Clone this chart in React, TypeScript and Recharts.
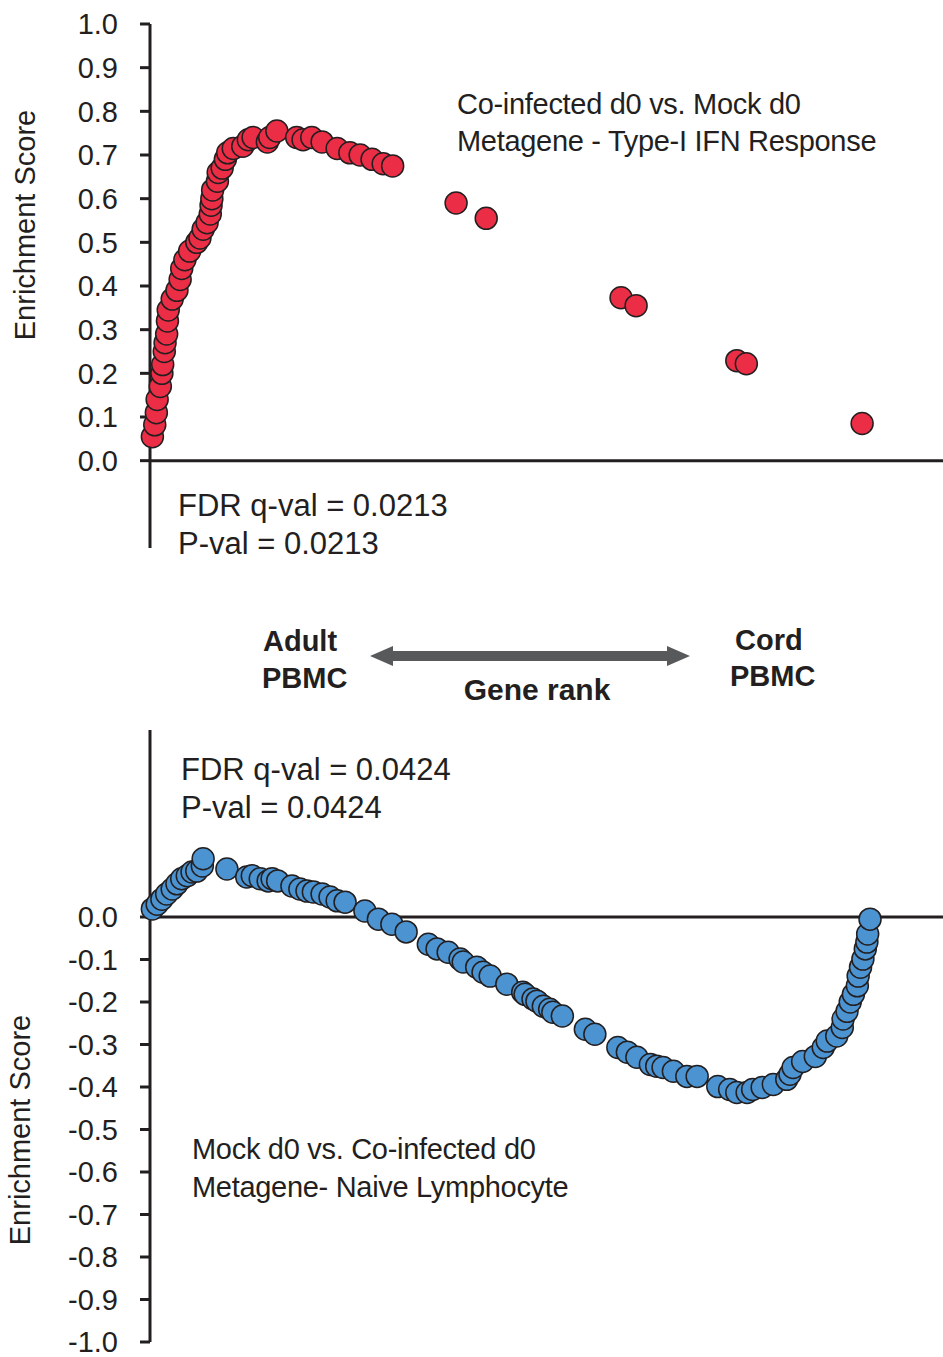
import { ScatterChart, Scatter, XAxis, YAxis, ReferenceLine } from "recharts";

// Gene rank (0–1000, left = Adult PBMC, right = Cord PBMC) and enrichment score per gene
const rankTipoI = [
  3, 6, 8, 9, 13, 15, 16, 18, 19, 21, 22, 23, 28, 34, 38, 40, 44, 50, 59, 63,
  67, 72, 76, 77, 78, 79, 85, 86, 91, 95, 98, 105, 117, 124, 130, 148, 151, 160, 185, 193,
  204, 217, 236, 252, 265, 280, 294, 306, 386, 424, 594, 613, 740, 752, 898,
];
const esTipoI = [
  0.055, 0.082, 0.11, 0.14, 0.17, 0.2, 0.22, 0.25, 0.27, 0.29, 0.32, 0.345, 0.37, 0.39, 0.415, 0.44, 0.46, 0.48, 0.5, 0.51,
  0.53, 0.545, 0.565, 0.585, 0.6, 0.62, 0.64, 0.66, 0.67, 0.69, 0.705, 0.715, 0.72, 0.735, 0.74, 0.73, 0.74, 0.755, 0.74, 0.735,
  0.74, 0.73, 0.715, 0.705, 0.7, 0.69, 0.68, 0.675, 0.59, 0.555, 0.373, 0.355, 0.229, 0.222, 0.085,
];

const rankNaive = [
  3, 9, 15, 21, 28, 34, 40, 47, 53, 59, 66, 67, 97, 122, 129, 139, 149, 154, 161, 179,
  189, 198, 206, 217, 227, 236, 246, 271, 288, 305, 323, 351, 362, 376, 391, 395, 412, 420, 429, 450,
  470, 473, 483, 488, 496, 504, 508, 520, 549, 561, 590, 602, 614, 631, 639, 647, 660, 677, 690, 716,
  731, 740, 753, 760, 772, 786, 803, 807, 811, 823, 839, 849, 854, 866, 873, 874, 879, 883, 887, 892,
  893, 896, 899, 902, 904, 905, 908,
];
const esNaive = [
  0.019, 0.03, 0.042, 0.054, 0.066, 0.078, 0.09, 0.097, 0.106, 0.108, 0.12, 0.137, 0.113, 0.094, 0.097, 0.09, 0.085, 0.09, 0.085, 0.073,
  0.066, 0.061, 0.059, 0.054, 0.047, 0.038, 0.035, 0.014, -0.005, -0.017, -0.035, -0.064, -0.075, -0.083, -0.099, -0.106, -0.118, -0.13, -0.139, -0.158,
  -0.177, -0.182, -0.193, -0.198, -0.21, -0.217, -0.224, -0.233, -0.264, -0.276, -0.307, -0.318, -0.33, -0.347, -0.351, -0.354, -0.363, -0.375, -0.375, -0.399,
  -0.406, -0.413, -0.413, -0.406, -0.401, -0.394, -0.382, -0.37, -0.354, -0.34, -0.328, -0.307, -0.292, -0.28, -0.26, -0.24, -0.222, -0.2, -0.182, -0.162,
  -0.139, -0.118, -0.099, -0.075, -0.059, -0.04, -0.005,
];

const ticksTipoI = [0, 0.1, 0.2, 0.3, 0.4, 0.5, 0.6, 0.7, 0.8, 0.9, 1.0];
const ticksNaive = [0, -0.1, -0.2, -0.3, -0.4, -0.5, -0.6, -0.7, -0.8, -0.9, -1.0];

const FONTE = '"Liberation Sans", Arial, sans-serif';
const TINTA = "#231f20";
const VERMELHO = "#EC2D46";
const AZUL = "#4B93D1";

const dadosTipoI = rankTipoI.map((rank, i) => ({ rank, es: esTipoI[i] }));
const dadosNaive = rankNaive.map((rank, i) => ({ rank, es: esNaive[i] }));

function formatarTick(v: number) {
  return v.toFixed(1);
}

function Bolinha(props: any) {
  if (props.cx == null || props.cy == null) return null;
  return <circle cx={props.cx} cy={props.cy} r={11} fill={props.fill} stroke={TINTA} strokeWidth={1.5} />;
}

function GraficoES({
  dados,
  dominio,
  ticks,
  cor,
  altura,
  margem,
}: {
  dados: { rank: number; es: number }[];
  dominio: [number, number];
  ticks: number[];
  cor: string;
  altura: number;
  margem: { top: number; bottom: number };
}) {
  return (
    <ScatterChart width={943} height={altura} margin={{ top: margem.top, right: 0, bottom: margem.bottom, left: 0 }}>
      <XAxis type="number" dataKey="rank" domain={[0, 1000]} hide />
      <YAxis
        type="number"
        dataKey="es"
        domain={dominio}
        ticks={ticks}
        interval={0}
        width={150}
        tickFormatter={formatarTick}
        axisLine={{ stroke: TINTA, strokeWidth: 3 }}
        tickLine={{ stroke: TINTA, strokeWidth: 3 }}
        tickSize={10}
        tickMargin={22}
        tick={{ fill: TINTA, fontSize: 29, fontFamily: FONTE }}
      />
      <ReferenceLine y={0} stroke={TINTA} strokeWidth={3} />
      <Scatter data={dados} fill={cor} shape={<Bolinha />} isAnimationActive={false} />
    </ScatterChart>
  );
}

export default function App() {
  return (
    <div
      style={{
        position: "absolute",
        top: 0,
        left: 0,
        width: 943,
        height: 1357,
        background: "#fff",
        fontFamily: FONTE,
      }}
    >
      <div style={{ position: "absolute", top: 0, left: 0 }}>
        <GraficoES
          dados={dadosTipoI}
          dominio={[-0.2, 1.0]}
          ticks={ticksTipoI}
          cor={VERMELHO}
          altura={560}
          margem={{ top: 24, bottom: 12 }}
        />
      </div>
      <div style={{ position: "absolute", top: 700, left: 0 }}>
        <GraficoES
          dados={dadosNaive}
          dominio={[-1.0, 0.44]}
          ticks={ticksNaive}
          cor={AZUL}
          altura={657}
          margem={{ top: 30, bottom: 15 }}
        />
      </div>

      {/* textos e seta do meio */}
      <svg
        width={943}
        height={1357}
        style={{ position: "absolute", top: 0, left: 0, pointerEvents: "none" }}
        fontFamily={FONTE}
        fill={TINTA}
      >
        <text x={35} y={225} fontSize={29} textAnchor="middle" transform="rotate(-90 35 225)">
          Enrichment Score
        </text>
        <text x={30} y={1130} fontSize={29} textAnchor="middle" transform="rotate(-90 30 1130)">
          Enrichment Score
        </text>

        <text x={457} y={114} fontSize={29} letterSpacing={-0.3}>Co-infected d0 vs. Mock d0</text>
        <text x={457} y={151} fontSize={29} letterSpacing={-0.3}>Metagene - Type-I IFN Response</text>
        <text x={178} y={516} fontSize={31}>FDR q-val = 0.0213</text>
        <text x={178} y={554} fontSize={31}>P-val = 0.0213</text>

        <text x={263} y={651} fontSize={29} fontWeight="bold">Adult</text>
        <text x={262} y={688} fontSize={29} fontWeight="bold">PBMC</text>
        <text x={537} y={700} fontSize={30} fontWeight="bold" textAnchor="middle">Gene rank</text>
        <text x={735} y={650} fontSize={29} fontWeight="bold">Cord</text>
        <text x={730} y={686} fontSize={29} fontWeight="bold">PBMC</text>
        <polygon
          points="370,656 393,646 393,651 667,651 667,646 690,656 667,666 667,661 393,661 393,666"
          fill="#58595b"
        />

        <text x={181} y={780} fontSize={31}>FDR q-val = 0.0424</text>
        <text x={181} y={818} fontSize={31}>P-val = 0.0424</text>
        <text x={192} y={1159} fontSize={29} letterSpacing={-0.3}>Mock d0 vs. Co-infected d0</text>
        <text x={192} y={1197} fontSize={29} letterSpacing={-0.3}>Metagene- Naive Lymphocyte</text>
      </svg>
    </div>
  );
}
